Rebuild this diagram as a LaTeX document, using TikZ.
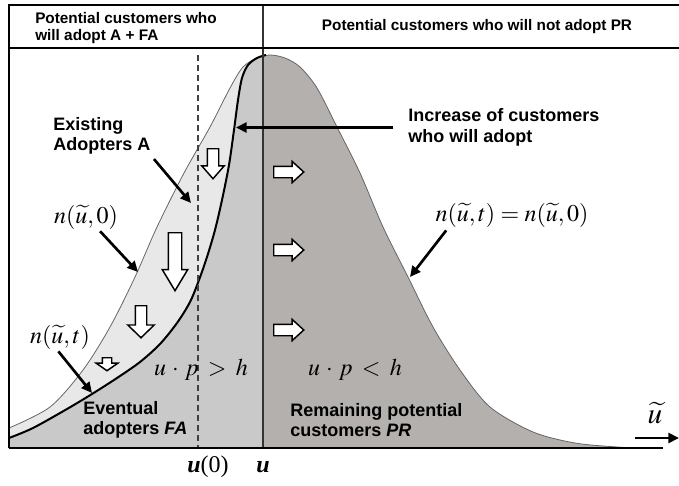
\documentclass[tikz,border=0pt]{standalone}
\usepackage{mathptmx}
\usepackage{fontspec}
\setmainfont{Liberation Serif}
\setsansfont{Liberation Sans}
\usetikzlibrary{arrows.meta,shapes.arrows}
\definecolor{aFill}{HTML}{E8E8E8}
\definecolor{faFill}{HTML}{C9C9C9}
\definecolor{prFill}{HTML}{B3B0AE}
\newcommand{\outercurve}{plot[smooth] coordinates {(9,428) (50,407) (83,370) (110,327) (135,277) (157,227) (184,173) (210,127) (230,88) (243,67) (257,58) (270,55) (285,58) (300,67) (317,88) (337,127) (360,173) (383,227) (408,277) (433,327) (460,370) (490,407) (533,432) (575,443) (617,447) (640,448)}}
\newcommand{\innercurve}{plot[smooth] coordinates {(9,438) (33,428) (67,409) (92,394) (117,378) (140,362) (160,344) (177,323) (190,302) (199,280) (207,257) (215,230) (222,200) (229,165) (234,130) (238,100) (242,78) (248,65) (257,58) (266,55)}}

\begin{document}
\begin{tikzpicture}[x=0.75pt,y=-0.75pt,
  head/.style={font=\sffamily\bfseries\fontsize{11.5}{12.8}\selectfont,align=left,inner sep=0pt},
  tag/.style={font=\sffamily\bfseries\fontsize{13.5}{15.5}\selectfont,align=left,inner sep=0pt},
  eq/.style={font=\fontsize{18}{20}\selectfont,inner sep=0pt},
  ptr/.style={-{Triangle[length=8pt,width=7.5pt]},line width=2pt},
  hollow/.style={single arrow,draw=black,fill=white,line width=1.1pt,inner xsep=0pt,single arrow head indent=0pt,anchor=tail},
  frame/.style={line width=1.5pt}
]
\useasboundingbox (0,0) rectangle (679,486);
% Regions: A between the two curves, FA under n(u,t), PR right of u.
\fill[aFill] \outercurve -- (640,448) -- (9,448) -- cycle;
\fill[faFill] \innercurve -- (266,448) -- (9,448) -- cycle;
\begin{scope}
  \clip (263,0) rectangle (679,448);
  \fill[prFill] \outercurve -- (640,448) -- (9,448) -- cycle;
\end{scope}
\draw[black!60,line width=0.6pt] \outercurve;
\draw[line width=1.5pt] \innercurve;

\draw[dashed,dash pattern=on 4.5pt off 3pt,line width=1pt,black!75] (198,55) -- (198,448);
\draw[line width=1pt,black!80] (263,5) -- (263,448);
\draw[frame] (9,448) -- (9,5) -- (679,5);
\draw[frame] (9,48) -- (679,48);
\draw[frame] (9,448) -- (663,448);

\node[head,anchor=west] (hdA) at (35,28) {Potential customers who\\will adopt A + FA};
\node[head] (hdPR) at (477,27) {Potential customers who will not adopt PR};

% hollow arrows: adopters move down, non-adopters move right
\node[hollow,rotate=-90,minimum height=22.5pt,inner ysep=3.75pt,single arrow head extend=4.1pt,single arrow tip angle=82] (dA) at (213,148) {};
\node[hollow,rotate=-90,minimum height=43.5pt,inner ysep=4.5pt,single arrow head extend=4.5pt,single arrow tip angle=62] (dB) at (175,232) {};
\node[hollow,rotate=-90,minimum height=24pt,inner ysep=3.75pt,single arrow head extend=5.6pt,single arrow tip angle=92] (dC) at (141,305) {};
\node[hollow,rotate=-90,minimum height=9.75pt,inner ysep=3pt,single arrow head extend=4.5pt,single arrow tip angle=110] (dD) at (107,357) {};
\node[hollow,minimum height=22.5pt,inner ysep=3.75pt,single arrow head extend=3.75pt,single arrow tip angle=85] (rA) at (273,172) {};
\node[hollow,minimum height=22.5pt,inner ysep=3.75pt,single arrow head extend=3.75pt,single arrow tip angle=85] (rB) at (273,250) {};
\node[hollow,minimum height=22.5pt,inner ysep=3.75pt,single arrow head extend=3.75pt,single arrow tip angle=85] (rC) at (273,330) {};

\node[tag,anchor=west] (exist) at (53,136) {Existing\\Adopters A};
\node[tag,anchor=west] (incr) at (408,127.5) {Increase of customers\\who will adopt};
\node[tag,anchor=west] (eventual) at (83,420) {Eventual\\adopters \textit{FA}};
\node[tag,anchor=west] (remain) at (290,420) {Remaining potential\\customers \textit{PR}};

\node[eq] (n0) at (86,217) {$n(\widetilde{u},0)$};
\node[eq] (nt) at (60,337) {$n(\widetilde{u},t)$};
\node[eq] (ntr) at (512,215) {$n(\widetilde{u},t)=n(\widetilde{u},0)$};
\node[eq] (gtA) at (201,370) {$u\mkern2mu\cdot\mkern2mu p\mkern3mu>\mkern3mu h$};
\node[eq] (ltPR) at (355,370) {$u\mkern2mu\cdot\mkern2mu p\mkern3mu<\mkern3mu h$};
\node[eq,font=\fontsize{22}{24}\selectfont] (uaxis) at (655,413) {$\widetilde{u}$};
\node[eq] (u0) at (208,467) {\textbf{\textit{u}}(0)};
\node[eq] (ubar) at (263,467) {\textbf{\textit{u}}};

\coordinate (extip) at (191,203);
\coordinate (inctip) at (236,127.5);
\coordinate (n0tip) at (138,272);
\coordinate (nttip) at (92,393);
\coordinate (ntrtip) at (410,277);
\coordinate (axs) at (635,438);
\coordinate (axe) at (679,438);
\draw[ptr,shorten <=4pt] (exist.south east) -- (extip);
\draw[ptr,shorten <=11pt] (incr.west) -- (inctip);
\draw[ptr,shorten <=2pt] (n0.-45) -- (n0tip);
\draw[ptr,shorten <=2pt] (nt.-105) -- (nttip);
\draw[ptr,shorten <=3pt] ([xshift=10pt]ntr.south west) -- (ntrtip);
\draw[ptr] (axs) -- (axe);
\end{tikzpicture}
\end{document}
